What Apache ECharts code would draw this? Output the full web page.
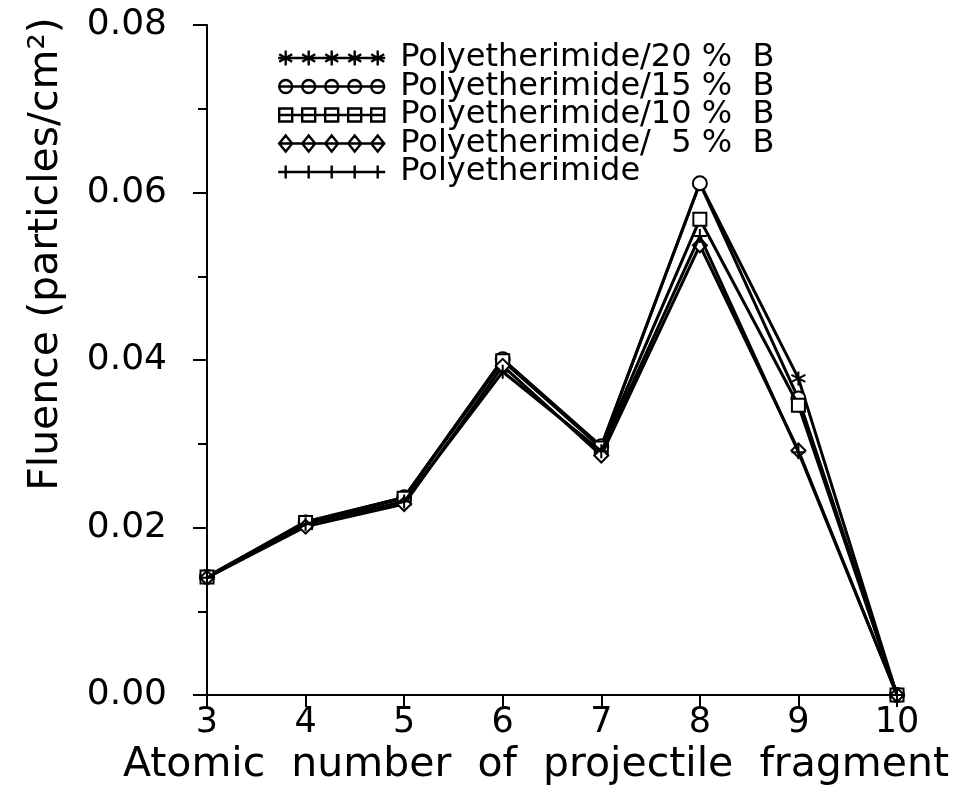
<!DOCTYPE html>
<html>
<head>
<meta charset="utf-8">
<script src="https://cdn.jsdelivr.net/npm/echarts@6/dist/echarts.min.js"></script>
<style>
html,body{margin:0;padding:0;background:#fff;}
#chart{width:964px;height:791px;}
</style>
</head>
<body>
<div id="chart"></div>
<script>
// ---- data ----
const atomicNumbers = [3, 4, 5, 6, 7, 8, 9, 10];
const seriesNames = [
  'Polyetherimide/20 %  B',
  'Polyetherimide/15 %  B',
  'Polyetherimide/10 %  B',
  'Polyetherimide/  5 %  B',
  'Polyetherimide'
];
const pei20 = [0.0141, 0.0207, 0.0236, 0.0400, 0.0297, 0.0611, 0.0378, 0];
const pei15 = [0.0141, 0.0206, 0.0236, 0.0401, 0.0297, 0.0611, 0.0354, 0];
const pei10 = [0.0141, 0.0206, 0.0235, 0.0399, 0.0295, 0.0568, 0.0346, 0];
const pei5  = [0.0140, 0.0201, 0.0228, 0.0393, 0.0286, 0.0537, 0.0292, 0];
const pei0  = [0.0140, 0.0204, 0.0231, 0.0386, 0.0291, 0.0548, 0.0290, 0];
const yTicks = [0, 0.02, 0.04, 0.06, 0.08];

// ---- styling helpers ----
const seriesValues = [pei20, pei15, pei10, pei5, pei0];
const markerKinds = ['star', 'circle', 'square', 'diamond', 'plus'];
const symbolFor = {
  star: 'path://M0,-10L0,10M-8.66,-5L8.66,5M-8.66,5L8.66,-5',
  circle: 'circle',
  square: 'rect',
  diamond: 'diamond',
  plus: 'path://M0,-10L0,10M-10,0L10,0'
};
const legendCenters = [7.5, 30.5, 53.5, 76.5, 99.5];
function legendPath(kind) {
  let p = 'M0,8L107,8';
  legendCenters.forEach(function (c) {
    if (kind === 'star') {
      p += 'M' + c + ',0.5L' + c + ',15.5M' + (c - 6.5) + ',4.2L' + (c + 6.5) + ',11.8M' + (c - 6.5) + ',11.8L' + (c + 6.5) + ',4.2';
    } else if (kind === 'circle') {
      p += 'M' + (c + 6.5) + ',8A6.5,6.5 0 1,1 ' + (c - 6.5) + ',8A6.5,6.5 0 1,1 ' + (c + 6.5) + ',8';
    } else if (kind === 'square') {
      p += 'M' + (c - 6.5) + ',1.5L' + (c + 6.5) + ',1.5L' + (c + 6.5) + ',14.5L' + (c - 6.5) + ',14.5Z';
    } else if (kind === 'diamond') {
      p += 'M' + c + ',0L' + (c + 6.5) + ',8L' + c + ',16L' + (c - 6.5) + ',8Z';
    } else {
      p += 'M' + c + ',1.5L' + c + ',14.5';
    }
  });
  return 'path://' + p;
}

const FONT = 'DejaVu Sans';
const chart = echarts.init(document.getElementById('chart'), null, {renderer: 'canvas'});

const series = seriesNames.map(function (name, i) {
  return {
    name: name,
    type: 'line',
    data: atomicNumbers.map(function (x, j) { return [x, seriesValues[i][j]]; }),
    symbol: symbolFor[markerKinds[i]],
    symbolSize: markerKinds[i] === 'square' ? 13 : 14,
    showAllSymbol: true,
    lineStyle: {color: '#000', width: 3},
    itemStyle: {color: '#fff', borderColor: '#000', borderWidth: 2},
    emphasis: {disabled: true},
    animation: false,
    z: 2 + i
  };
});

chart.setOption({
  backgroundColor: '#fff',
  animation: false,
  grid: {left: 207, right: 67, top: 25, bottom: 96, containLabel: false},
  legend: {
    orient: 'vertical',
    left: 272,
    top: 37,
    itemWidth: 107,
    itemHeight: 16,
    itemGap: -3.5,
    selectedMode: false,
    symbolKeepAspect: true,
    itemStyle: {color: 'rgba(0,0,0,0)', borderColor: '#000', borderWidth: 2.4},
    textStyle: {fontFamily: FONT, fontSize: 32, color: '#000', padding: [0, 0, 0, 10]},
    data: seriesNames.map(function (name, i) {
      return {name: name, icon: legendPath(markerKinds[i])};
    })
  },
  xAxis: {
    type: 'value',
    min: 3,
    max: 10,
    interval: 1,
    name: 'Atomic  number  of  projectile  fragment',
    nameLocation: 'middle',
    nameGap: 44,
    nameTextStyle: {fontFamily: FONT, fontSize: 41, color: '#000', padding: [0, 32, 0, 0]},
    axisLine: {show: true, onZero: false, lineStyle: {color: '#000', width: 2}},
    axisTick: {show: true, inside: false, length: 12, lineStyle: {color: '#000', width: 2}},
    axisLabel: {fontFamily: FONT, fontSize: 35, color: '#000', margin: 10},
    splitLine: {show: false}
  },
  yAxis: {
    type: 'value',
    min: 0,
    max: 0.08,
    interval: 0.02,
    name: 'Fluence (particles/cm²)',
    nameLocation: 'middle',
    nameGap: 140,
    nameRotate: 90,
    nameTextStyle: {fontFamily: FONT, fontSize: 41, color: '#000', padding: [0, 0, 0, 212]},
    axisLine: {show: true, onZero: false, lineStyle: {color: '#000', width: 2}},
    axisTick: {show: true, inside: false, length: 14, lineStyle: {color: '#000', width: 2}},
    minorTick: {show: true, splitNumber: 2, length: 9, lineStyle: {color: '#000', width: 2}},
    axisLabel: {
      fontFamily: FONT, fontSize: 36, color: '#000', margin: 40,
      formatter: function (v) {
        const hit = yTicks.find(function (t) { return Math.abs(t - v) < 1e-9; });
        return (hit !== undefined ? hit : v).toFixed(2);
      }
    },
    splitLine: {show: false}
  },
  series: series
});
</script>
</body>
</html>
